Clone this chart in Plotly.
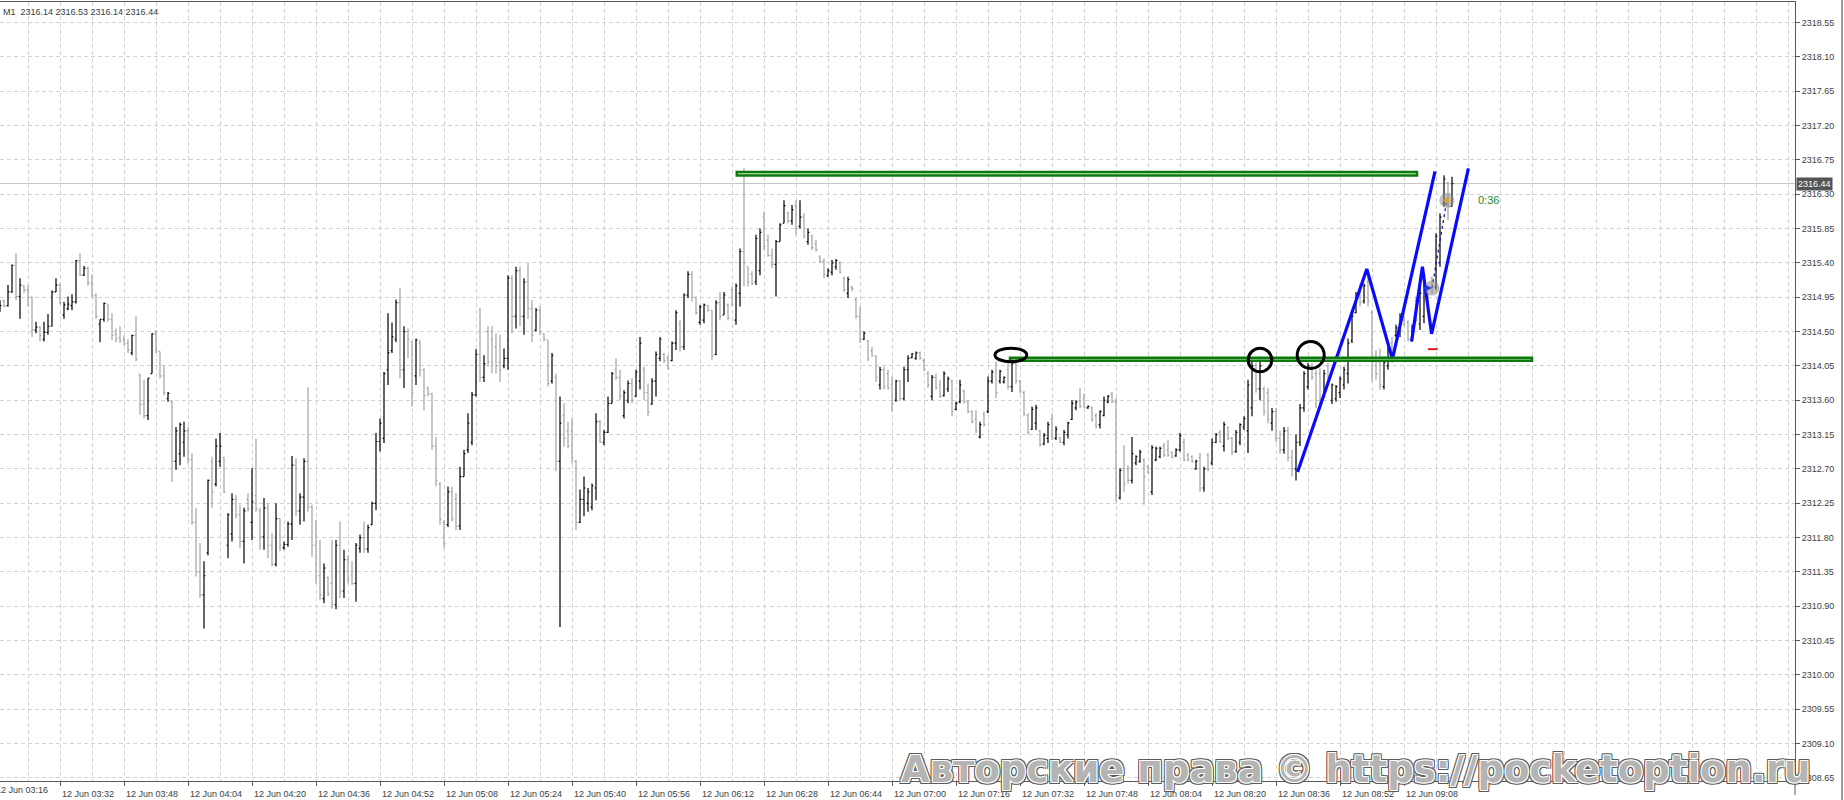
import plotly.graph_objects as go
import pandas as pd

# ---------------- data (M1 bars, 12 Jun, 03:17 .. 09:20) ----------------
OPEN = [
2314.80, 2314.90, 2314.84, 2315.02, 2315.37, 2314.96, 2315.10, 2315.05, 2314.95, 2314.52,
2314.56, 2314.40, 2314.49, 2314.57, 2315.02, 2315.11, 2314.72, 2314.80, 2314.84, 2314.89,
2315.43, 2315.24, 2315.33, 2315.14, 2314.98, 2314.60, 2314.66, 2314.86, 2314.66, 2314.47,
2314.42, 2314.40, 2314.35, 2314.22, 2314.45, 2313.93, 2313.55, 2313.40, 2313.95, 2314.47,
2314.24, 2313.92, 2313.62, 2313.58, 2312.80, 2312.90, 2313.05, 2313.20, 2312.82, 2312.00,
2311.35, 2311.05, 2311.60, 2312.80, 2312.50, 2312.80, 2312.85, 2311.70, 2311.85, 2312.30,
2312.10, 2311.75, 2312.30, 2312.00, 2312.35, 2312.15, 2311.81, 2312.19, 2311.70, 2311.45,
2312.05, 2311.67, 2311.71, 2311.98, 2312.75, 2312.15, 2312.33, 2312.80, 2312.20, 2311.70,
2311.30, 2311.00, 2311.28, 2311.20, 2310.92, 2311.70, 2311.10, 2311.51, 2311.30, 2311.20,
2311.66, 2311.80, 2311.65, 2311.97, 2312.25, 2313.06, 2313.10, 2314.00, 2314.25, 2314.40,
2314.88, 2314.00, 2314.50, 2314.37, 2313.92, 2314.35, 2314.00, 2313.76, 2313.68, 2313.00,
2312.50, 2312.00, 2311.97, 2312.40, 2312.30, 2311.95, 2312.60, 2312.95, 2313.05, 2313.67,
2314.20, 2313.90, 2314.50, 2314.40, 2314.30, 2314.10, 2314.05, 2314.15, 2315.20, 2314.70,
2315.30, 2314.70, 2315.15, 2314.80, 2314.52, 2314.78, 2314.47, 2314.39, 2313.85, 2313.90,
2312.80, 2313.40, 2313.20, 2313.20, 2312.80, 2312.00, 2312.30, 2312.25, 2312.20, 2312.45,
2313.32, 2313.05, 2313.18, 2313.56, 2314.00, 2313.90, 2313.40, 2313.60, 2313.82, 2313.65,
2313.85, 2314.00, 2313.70, 2313.55, 2313.85, 2314.15, 2314.20, 2314.15, 2314.12, 2314.35,
2314.60, 2314.30, 2314.98, 2315.25, 2314.95, 2314.62, 2314.65, 2314.84, 2314.78, 2314.20,
2314.88, 2314.72, 2314.85, 2315.05, 2314.65, 2315.00, 2315.55, 2315.35, 2315.25, 2315.15,
2315.30, 2316.00, 2315.70, 2315.50, 2315.38, 2315.68, 2315.92, 2316.05, 2315.95, 2316.15,
2315.88, 2316.00, 2315.68, 2315.75, 2315.65, 2315.48, 2315.42, 2315.23, 2315.28, 2315.35,
2315.40, 2315.20, 2315.00, 2315.08, 2314.92, 2314.70, 2314.40, 2314.38, 2314.25, 2314.18,
2313.80, 2314.00, 2313.95, 2313.80, 2313.60, 2313.85, 2313.62, 2314.00, 2314.16, 2314.15,
2314.22, 2314.12, 2313.95, 2313.65, 2313.90, 2313.80, 2313.66, 2313.75, 2313.85, 2313.48,
2313.58, 2313.72, 2313.58, 2313.45, 2313.35, 2313.12, 2313.42, 2313.45, 2313.85, 2314.00,
2313.85, 2313.84, 2314.00, 2313.78, 2314.08, 2313.85, 2313.70, 2313.40, 2313.22, 2313.30,
2313.20, 2313.03, 2313.10, 2313.35, 2313.10, 2313.11, 2313.05, 2313.15, 2313.35, 2313.50,
2313.60, 2313.62, 2313.50, 2313.50, 2313.40, 2313.28, 2313.40, 2313.58, 2313.68, 2313.58,
2312.32, 2312.70, 2312.70, 2312.55, 2312.78, 2312.80, 2312.82, 2312.73, 2312.40, 2312.82,
2312.86, 2313.00, 2312.95, 2312.92, 2312.87, 2312.95, 2313.05, 2312.88, 2312.86, 2312.70,
2312.85, 2312.45, 2312.88, 2312.78, 2313.05, 2313.18, 2313.00, 2313.24, 2313.10, 2312.93,
2313.05, 2313.25, 2313.20, 2313.50, 2314.05, 2313.75, 2313.75, 2313.70, 2313.30, 2313.45,
2313.10, 2312.95, 2313.20, 2312.85, 2312.70, 2313.05, 2313.50, 2313.78, 2314.05, 2313.95,
2313.95, 2313.65, 2314.05, 2313.60, 2313.62, 2313.70, 2313.80, 2313.95, 2314.38, 2314.75,
2315.05, 2314.90, 2315.15, 2314.75, 2314.20, 2314.10, 2313.78, 2314.05, 2314.35, 2314.45,
2314.50, 2314.70, 2314.62, 2314.40, 2314.90, 2314.60, 2314.70, 2314.98, 2315.20, 2315.08,
2315.40, 2316.18, 2316.45, 2316.14,
]
HIGH = [
2314.91, 2314.92, 2315.11, 2315.38, 2315.53, 2315.20, 2315.11, 2315.11, 2314.96, 2314.63,
2314.57, 2314.63, 2314.73, 2315.04, 2315.20, 2315.13, 2314.89, 2314.96, 2314.99, 2315.44,
2315.53, 2315.36, 2315.35, 2315.25, 2315.00, 2314.66, 2314.88, 2314.86, 2314.74, 2314.54,
2314.57, 2314.45, 2314.40, 2314.46, 2314.70, 2313.95, 2313.87, 2313.89, 2314.48, 2314.52,
2314.24, 2314.06, 2313.71, 2313.60, 2313.25, 2313.31, 2313.32, 2313.25, 2312.91, 2312.19,
2311.73, 2311.49, 2312.56, 2312.86, 2313.10, 2313.17, 2312.86, 2312.12, 2312.38, 2312.36,
2312.23, 2312.19, 2312.38, 2312.71, 2313.10, 2312.19, 2312.32, 2312.25, 2311.86, 2312.25,
2312.05, 2311.75, 2312.01, 2312.87, 2312.84, 2312.38, 2312.84, 2313.77, 2312.23, 2312.03,
2311.77, 2311.46, 2311.29, 2311.77, 2311.77, 2312.01, 2311.64, 2311.57, 2311.49, 2311.73,
2311.84, 2312.01, 2311.97, 2312.27, 2313.17, 2313.36, 2313.97, 2314.74, 2314.62, 2314.92,
2315.07, 2314.57, 2314.54, 2314.37, 2314.41, 2314.39, 2314.02, 2313.78, 2313.70, 2313.12,
2312.53, 2312.03, 2312.47, 2312.47, 2312.38, 2312.73, 2312.95, 2313.43, 2313.71, 2314.27,
2314.81, 2314.19, 2314.57, 2314.57, 2314.48, 2314.46, 2314.28, 2315.24, 2315.24, 2315.35,
2315.35, 2315.20, 2315.40, 2314.91, 2314.81, 2314.83, 2314.48, 2314.39, 2314.22, 2313.95,
2313.65, 2313.56, 2313.32, 2313.36, 2312.82, 2312.43, 2312.60, 2312.45, 2312.51, 2313.43,
2313.34, 2313.21, 2313.65, 2313.97, 2314.15, 2314.00, 2313.73, 2313.86, 2313.89, 2314.00,
2314.43, 2314.04, 2313.82, 2313.89, 2314.24, 2314.43, 2314.22, 2314.19, 2314.37, 2314.78,
2314.65, 2315.00, 2315.29, 2315.29, 2314.96, 2314.85, 2314.87, 2314.85, 2314.78, 2314.91,
2315.02, 2315.02, 2314.87, 2315.09, 2315.13, 2315.59, 2316.64, 2315.35, 2315.29, 2315.77,
2315.85, 2316.07, 2315.77, 2315.59, 2315.70, 2315.92, 2316.22, 2316.07, 2316.16, 2316.22,
2316.22, 2316.05, 2315.85, 2315.77, 2315.70, 2315.50, 2315.46, 2315.33, 2315.44, 2315.45,
2315.42, 2315.22, 2315.22, 2315.10, 2314.94, 2314.83, 2314.50, 2314.39, 2314.30, 2314.19,
2314.04, 2314.04, 2314.00, 2313.91, 2313.87, 2313.87, 2314.04, 2314.19, 2314.22, 2314.24,
2314.24, 2314.15, 2313.98, 2313.93, 2313.95, 2313.87, 2313.98, 2313.91, 2313.87, 2313.58,
2313.87, 2313.74, 2313.60, 2313.47, 2313.47, 2313.32, 2313.45, 2313.91, 2314.00, 2314.11,
2314.00, 2313.91, 2314.09, 2314.11, 2314.13, 2313.87, 2313.72, 2313.43, 2313.52, 2313.54,
2313.21, 2313.17, 2313.32, 2313.43, 2313.26, 2313.12, 2313.21, 2313.32, 2313.60, 2313.60,
2313.76, 2313.69, 2313.53, 2313.52, 2313.43, 2313.47, 2313.65, 2313.67, 2313.71, 2313.63,
2312.71, 2313.01, 2312.75, 2313.12, 2312.88, 2312.95, 2312.84, 2312.75, 2313.01, 2312.99,
2312.99, 2313.04, 2313.08, 2312.93, 2312.97, 2313.17, 2313.10, 2312.91, 2312.88, 2312.82,
2312.91, 2312.73, 2312.91, 2313.10, 2313.17, 2313.21, 2313.32, 2313.26, 2313.12, 2313.21,
2313.30, 2313.39, 2313.87, 2314.13, 2314.10, 2314.17, 2313.78, 2313.76, 2313.50, 2313.50,
2313.20, 2313.25, 2313.25, 2312.95, 2313.15, 2313.55, 2313.98, 2314.09, 2314.09, 2314.00,
2314.02, 2314.00, 2314.09, 2313.82, 2313.80, 2313.91, 2314.04, 2314.41, 2314.74, 2315.02,
2315.13, 2315.13, 2315.30, 2314.78, 2314.26, 2314.28, 2314.17, 2314.30, 2314.43, 2314.59,
2314.74, 2314.72, 2314.65, 2314.59, 2314.96, 2315.09, 2315.13, 2315.00, 2315.22, 2315.79,
2316.05, 2316.55, 2316.46, 2316.53,
]
LOW = [
2314.76, 2314.82, 2314.83, 2315.01, 2314.91, 2314.67, 2315.01, 2314.83, 2314.43, 2314.48,
2314.37, 2314.37, 2314.46, 2314.57, 2315.02, 2314.86, 2314.67, 2314.78, 2314.78, 2314.87,
2315.23, 2315.23, 2315.10, 2314.95, 2314.67, 2314.36, 2314.63, 2314.63, 2314.39, 2314.36,
2314.35, 2314.32, 2314.22, 2314.19, 2314.11, 2313.41, 2313.36, 2313.34, 2313.95, 2314.22,
2313.89, 2313.67, 2313.58, 2312.53, 2312.69, 2312.75, 2312.86, 2312.77, 2311.97, 2311.29,
2311.01, 2310.61, 2311.57, 2312.19, 2312.47, 2312.73, 2312.38, 2311.53, 2311.75, 2312.05,
2311.66, 2311.46, 2312.14, 2311.77, 2312.14, 2311.64, 2311.64, 2311.53, 2311.42, 2311.42,
2311.62, 2311.64, 2311.68, 2311.77, 2312.08, 2311.97, 2312.01, 2312.14, 2311.55, 2311.20,
2310.98, 2310.94, 2311.03, 2310.87, 2310.86, 2311.01, 2311.01, 2311.20, 2311.18, 2310.96,
2311.60, 2311.60, 2311.60, 2311.97, 2312.16, 2312.93, 2313.04, 2313.80, 2314.22, 2314.36,
2313.89, 2313.76, 2314.15, 2313.52, 2313.80, 2313.91, 2313.47, 2313.65, 2312.95, 2312.47,
2311.97, 2311.66, 2311.94, 2312.01, 2311.90, 2311.90, 2312.60, 2312.91, 2313.01, 2313.65,
2313.84, 2313.84, 2314.04, 2313.95, 2313.95, 2313.84, 2314.02, 2314.00, 2314.48, 2314.54,
2314.57, 2314.46, 2314.67, 2314.36, 2314.50, 2314.46, 2314.37, 2313.78, 2313.82, 2312.67,
2310.63, 2312.99, 2312.97, 2312.77, 2311.90, 2311.99, 2312.08, 2312.14, 2312.16, 2312.29,
2313.04, 2313.01, 2313.17, 2313.56, 2313.87, 2313.60, 2313.36, 2313.56, 2313.56, 2313.65,
2313.74, 2313.60, 2313.39, 2313.54, 2313.65, 2314.11, 2314.09, 2314.00, 2314.11, 2314.26,
2314.24, 2314.26, 2314.94, 2314.89, 2314.72, 2314.59, 2314.61, 2314.76, 2314.13, 2314.19,
2314.65, 2314.72, 2314.65, 2314.83, 2314.59, 2314.83, 2315.09, 2315.09, 2315.11, 2315.11,
2315.24, 2315.57, 2315.48, 2315.33, 2314.96, 2315.68, 2315.92, 2315.92, 2315.90, 2315.77,
2315.85, 2315.72, 2315.64, 2315.57, 2315.55, 2315.40, 2315.20, 2315.22, 2315.24, 2315.31,
2315.26, 2315.02, 2314.94, 2315.03, 2314.67, 2314.35, 2314.39, 2314.11, 2314.17, 2313.84,
2313.74, 2313.74, 2313.74, 2313.45, 2313.58, 2313.60, 2313.60, 2313.84, 2314.15, 2314.13,
2314.13, 2313.98, 2313.76, 2313.60, 2313.74, 2313.63, 2313.65, 2313.71, 2313.39, 2313.47,
2313.56, 2313.56, 2313.43, 2313.30, 2313.17, 2313.10, 2313.26, 2313.43, 2313.82, 2313.63,
2313.82, 2313.82, 2313.74, 2313.71, 2313.82, 2313.69, 2313.39, 2313.15, 2313.21, 2313.21,
2312.99, 2313.01, 2313.04, 2313.08, 2313.08, 2313.04, 2313.01, 2313.10, 2313.34, 2313.47,
2313.50, 2313.50, 2313.49, 2313.32, 2313.23, 2313.23, 2313.39, 2313.56, 2313.56, 2312.27,
2312.30, 2312.40, 2312.51, 2312.51, 2312.75, 2312.78, 2312.23, 2312.64, 2312.36, 2312.80,
2312.84, 2312.86, 2312.86, 2312.84, 2312.86, 2312.93, 2312.80, 2312.80, 2312.78, 2312.69,
2312.40, 2312.40, 2312.67, 2312.75, 2313.04, 2313.04, 2312.93, 2313.08, 2312.88, 2312.91,
2313.01, 2313.21, 2312.91, 2313.39, 2313.70, 2313.60, 2313.40, 2313.30, 2313.20, 2313.05,
2312.90, 2312.90, 2312.80, 2312.60, 2312.55, 2313.00, 2313.45, 2313.74, 2313.87, 2313.50,
2313.55, 2313.63, 2313.82, 2313.55, 2313.58, 2313.63, 2313.74, 2313.82, 2314.35, 2314.74,
2314.83, 2314.87, 2314.83, 2313.85, 2313.87, 2313.74, 2313.74, 2314.00, 2314.09, 2314.43,
2314.43, 2314.57, 2314.37, 2314.37, 2314.61, 2314.52, 2314.61, 2314.74, 2315.00, 2315.05,
2315.35, 2316.14, 2315.96, 2316.14,
]
CLOSE = [
2314.84, 2314.83, 2315.02, 2315.37, 2314.96, 2315.11, 2315.04, 2314.95, 2314.52, 2314.56,
2314.45, 2314.49, 2314.57, 2315.02, 2315.11, 2314.88, 2314.85, 2314.86, 2314.89, 2315.43,
2315.24, 2315.33, 2315.14, 2314.98, 2314.70, 2314.66, 2314.87, 2314.66, 2314.45, 2314.40,
2314.38, 2314.34, 2314.26, 2314.45, 2314.14, 2313.55, 2313.40, 2313.89, 2314.47, 2314.25,
2313.92, 2313.70, 2313.69, 2312.80, 2313.20, 2313.28, 2313.20, 2312.82, 2312.00, 2311.35,
2311.05, 2311.30, 2312.55, 2312.40, 2313.00, 2313.00, 2312.40, 2312.10, 2312.30, 2312.10,
2311.75, 2312.15, 2312.18, 2312.27, 2312.18, 2311.81, 2312.19, 2311.70, 2311.45, 2312.05,
2311.70, 2311.71, 2311.98, 2312.75, 2312.15, 2312.33, 2312.80, 2312.20, 2311.70, 2311.30,
2311.05, 2311.40, 2311.06, 2310.92, 2311.70, 2311.10, 2311.51, 2311.25, 2311.20, 2311.70,
2311.80, 2311.65, 2311.93, 2312.25, 2313.06, 2313.30, 2313.95, 2314.22, 2314.43, 2314.88,
2314.00, 2314.50, 2314.40, 2313.70, 2314.39, 2314.00, 2313.66, 2313.68, 2313.00, 2312.55,
2312.05, 2311.72, 2312.40, 2312.05, 2311.95, 2312.60, 2312.90, 2313.30, 2313.67, 2314.20,
2313.90, 2314.08, 2314.10, 2314.10, 2314.05, 2314.00, 2314.15, 2315.20, 2314.70, 2315.30,
2314.70, 2315.15, 2314.80, 2314.45, 2314.78, 2314.50, 2314.40, 2313.82, 2314.19, 2312.80,
2313.30, 2313.10, 2313.00, 2312.85, 2312.00, 2312.30, 2312.45, 2312.40, 2312.48, 2313.32,
2313.05, 2313.18, 2313.56, 2313.95, 2313.90, 2313.65, 2313.70, 2313.82, 2313.60, 2313.97,
2314.35, 2313.70, 2313.45, 2313.85, 2314.20, 2314.40, 2314.12, 2314.02, 2314.35, 2314.75,
2314.30, 2314.98, 2315.25, 2314.95, 2314.75, 2314.82, 2314.85, 2314.78, 2314.18, 2314.88,
2314.70, 2314.98, 2314.68, 2314.86, 2315.10, 2315.55, 2315.40, 2315.15, 2315.13, 2315.72,
2315.80, 2315.62, 2315.50, 2315.38, 2315.68, 2315.90, 2316.15, 2315.95, 2316.10, 2315.85,
2316.00, 2315.75, 2315.80, 2315.60, 2315.57, 2315.42, 2315.25, 2315.30, 2315.40, 2315.43,
2315.28, 2315.05, 2315.18, 2315.06, 2314.70, 2314.40, 2314.48, 2314.15, 2314.19, 2313.90,
2314.00, 2313.78, 2313.76, 2313.55, 2313.85, 2313.62, 2314.00, 2314.15, 2314.21, 2314.22,
2314.15, 2314.00, 2313.80, 2313.90, 2313.76, 2313.65, 2313.95, 2313.88, 2313.45, 2313.56,
2313.80, 2313.58, 2313.45, 2313.32, 2313.20, 2313.28, 2313.28, 2313.85, 2313.97, 2313.70,
2313.98, 2313.90, 2313.78, 2314.08, 2313.85, 2313.72, 2313.42, 2313.18, 2313.48, 2313.50,
2313.02, 2313.14, 2313.28, 2313.12, 2313.22, 2313.05, 2313.18, 2313.30, 2313.56, 2313.58,
2313.52, 2313.51, 2313.52, 2313.35, 2313.26, 2313.45, 2313.60, 2313.65, 2313.58, 2312.35,
2312.68, 2312.50, 2312.55, 2312.90, 2312.86, 2312.92, 2312.60, 2312.66, 2312.98, 2312.97,
2312.97, 2312.88, 2312.88, 2312.85, 2312.95, 2313.14, 2312.82, 2312.82, 2312.80, 2312.80,
2312.45, 2312.70, 2312.70, 2313.05, 2313.15, 2313.06, 2313.28, 2313.10, 2312.92, 2313.18,
2313.28, 2313.36, 2313.80, 2314.05, 2313.75, 2314.05, 2313.45, 2313.35, 2313.45, 2313.10,
2312.95, 2313.20, 2312.85, 2312.70, 2313.05, 2313.50, 2313.95, 2314.05, 2313.90, 2313.60,
2313.62, 2313.95, 2313.85, 2313.80, 2313.78, 2313.88, 2314.00, 2314.35, 2314.70, 2314.98,
2314.88, 2315.10, 2314.90, 2314.10, 2313.95, 2313.80, 2314.10, 2314.25, 2314.15, 2314.55,
2314.70, 2314.60, 2314.40, 2314.55, 2314.65, 2315.00, 2315.05, 2314.78, 2315.02, 2315.75,
2316.00, 2316.50, 2316.14, 2316.44,
]
FIRST_BAR = "2024-06-12 03:17"
TIMEFRAME = "M1"

# time-axis labels (every 16 minutes, only where bars exist)
LABEL_FIRST = "2024-06-12 03:16"
LABEL_LAST = "2024-06-12 09:08"

# horizontal levels drawn on the chart (rectangles)
LEVEL_X0 = ["2024-06-12 06:21:12", "2024-06-12 07:29:30"]
LEVEL_X1 = ["2024-06-12 09:11:15", "2024-06-12 09:40:00"]
LEVEL_HI = [2316.593, 2314.156]
LEVEL_LO = [2316.546, 2314.118]

# ellipses marking touches of the level
ELL_X0 = ["2024-06-12 07:25:45", "2024-06-12 08:29:03", "2024-06-12 08:41:18"]
ELL_X1 = ["2024-06-12 07:33:42", "2024-06-12 08:34:57", "2024-06-12 08:48:03"]
ELL_HI = [2314.283, 2314.283, 2314.370]
ELL_LO = [2314.105, 2313.974, 2314.017]

# blue zig-zag drawings
ZIG1_T = ["2024-06-12 08:41:24", "2024-06-12 08:58:42", "2024-06-12 09:05:06", "2024-06-12 09:15:45"]
ZIG1_P = [2312.66, 2315.32, 2314.14, 2316.60]
ZIG2_T = ["2024-06-12 09:09:54", "2024-06-12 09:12:36", "2024-06-12 09:14:54", "2024-06-12 09:24:06"]
ZIG2_P = [2314.37, 2315.35, 2314.47, 2316.64]

# trade markers
TRADE_T = ["2024-06-12 09:15:00", "2024-06-12 09:18:42"]
TRADE_P = [2315.07, 2316.22]
STOP_T = ["2024-06-12 09:15:12"]
STOP_P = [2314.27]
TIMER_T = "2024-06-12 09:26:00"
TIMER_P = 2316.22
TIMER_TEXT = "0:36"

WATERMARK = "Авторские права © https://pocketoption.ru"

TIMES = pd.date_range(FIRST_BAR, periods=len(CLOSE), freq="min")
LABEL_TIMES = pd.date_range(LABEL_FIRST, LABEL_LAST, freq="16min")

GRID = "#d2d2d2"
AXIS = "#5a5a5a"
FONT = "Liberation Sans"

fig = go.Figure()
fig.add_trace(go.Ohlc(
    x=TIMES, open=OPEN, high=HIGH, low=LOW, close=CLOSE,
    increasing=dict(line=dict(color="#000000", width=1.2)),
    decreasing=dict(line=dict(color="#a3a3a3", width=1.2)),
    tickwidth=0.35, hoverinfo="skip", showlegend=False,
))

# level rectangles
for x0, x1, hi, lo in zip(LEVEL_X0, LEVEL_X1, LEVEL_HI, LEVEL_LO):
    fig.add_shape(type="rect", xref="x", yref="y", x0=x0, x1=x1, y0=lo, y1=hi,
                  line=dict(color="#0d7a0d", width=2.5), fillcolor="#cdf2c8", layer="above")

# ellipses
for x0, x1, hi, lo in zip(ELL_X0, ELL_X1, ELL_HI, ELL_LO):
    fig.add_shape(type="circle", xref="x", yref="y", x0=x0, x1=x1, y0=lo, y1=hi,
                  line=dict(color="#000000", width=3), layer="above")

for t, p in ((ZIG1_T, ZIG1_P), (ZIG2_T, ZIG2_P)):
    fig.add_trace(go.Scatter(x=t, y=p, mode="lines", line=dict(color="#0a0aff", width=3.2),
                             hoverinfo="skip", showlegend=False))

# dotted link between trades
fig.add_trace(go.Scatter(x=TRADE_T, y=TRADE_P, mode="lines",
                         line=dict(color="#1a1a9a", width=1.3, dash="dot"),
                         hoverinfo="skip", showlegend=False))
fig.add_trace(go.Scatter(x=TRADE_T, y=TRADE_P, mode="markers",
                         marker=dict(size=15, color="rgba(140,140,140,0.55)", line=dict(width=0)),
                         hoverinfo="skip", showlegend=False))
fig.add_trace(go.Scatter(x=TRADE_T[:1], y=TRADE_P[:1], mode="markers",
                         marker=dict(size=7, color="#2040d0", symbol="arrow-right"),
                         hoverinfo="skip", showlegend=False))
fig.add_trace(go.Scatter(x=TRADE_T[1:], y=TRADE_P[1:], mode="markers",
                         marker=dict(size=7, color="#e0a020", symbol="triangle-left"),
                         hoverinfo="skip", showlegend=False))
fig.add_trace(go.Scatter(x=STOP_T, y=STOP_P, mode="markers",
                         marker=dict(size=7, symbol="line-ew", line=dict(color="#e02020", width=2)),
                         hoverinfo="skip", showlegend=False))

# bid line
fig.add_shape(type="line", xref="paper", yref="y", x0=0, x1=1, y0=CLOSE[-1], y1=CLOSE[-1],
              line=dict(color="#c4c4c4", width=1), layer="below")

# window frame lines
fig.add_shape(type="line", xref="paper", yref="paper", x0=1, x1=1, y0=-0.018, y1=0,
              line=dict(color=AXIS, width=1))
fig.add_shape(type="line", xref="paper", yref="paper", x0=1.0262, x1=1.0262, y0=-0.03, y1=1.01,
              line=dict(color="#3a3a3a", width=1))

annotations = [
    dict(xref="paper", yref="paper", x=0, y=1, xanchor="left", yanchor="top", xshift=1, yshift=-3,
         text=f"{TIMEFRAME}  {OPEN[-1]:.2f} {HIGH[-1]:.2f} {LOW[-1]:.2f} {CLOSE[-1]:.2f}",
         showarrow=False, font=dict(family=FONT, size=9, color="#3c3c3c")),
    # first time label, whose tick lies just left of the visible area (partly cut, as in the terminal)
    dict(xref="paper", yref="paper", x=0, y=0, xanchor="left", yanchor="top", xshift=-6, yshift=-2,
         text=LABEL_TIMES[0].strftime("%d %b %H:%M"), showarrow=False,
         font=dict(family=FONT, size=9, color="#404040")),
    dict(xref="paper", yref="y", x=1, y=CLOSE[-1], xanchor="left", yanchor="middle", xshift=1,
         text=f"{CLOSE[-1]:.2f}", showarrow=False, bgcolor="#545454", borderpad=1,
         font=dict(family=FONT, size=9, color="#ffffff")),
    dict(xref="x", yref="y", x=TIMER_T, y=TIMER_P, xanchor="left", yanchor="middle",
         text=TIMER_TEXT, showarrow=False, font=dict(family=FONT, size=11, color="#1e8c1e")),
    dict(xref="paper", yref="paper", x=899 / 1795, y=(781 - 769) / 779, xanchor="left", yanchor="middle",
         text=WATERMARK, showarrow=False,
         font=dict(family="DejaVu Sans", size=37, color="#b4b4b4", weight="bold",
                   shadow="1px 1px 0 #fff, -1px -1px 0 #fff, 1px -1px 0 #fff, -1px 1px 0 #fff, "
                          "2px 2px 0 #5a5a5a, -2px -2px 0 #5a5a5a, 2px -2px 0 #5a5a5a, -2px 2px 0 #5a5a5a, "
                          "2px 0 0 #5a5a5a, -2px 0 0 #5a5a5a, 0 2px 0 #5a5a5a, 0 -2px 0 #5a5a5a")),
]

fig.update_layout(
    width=1844, height=800,
    margin=dict(l=0, r=49, t=2, b=19),
    paper_bgcolor="white", plot_bgcolor="white",
    showlegend=False, annotations=annotations,
    font=dict(family=FONT, size=9, color="#404040"),
    xaxis=dict(
        type="date", range=["2024-06-12 03:17:00", "2024-06-12 10:45:45"],
        rangeslider=dict(visible=False),
        tickmode="array", tickvals=list(LABEL_TIMES), tickformat="%d %b %H:%M",
        ticks="outside", ticklen=4, tickcolor=AXIS, ticklabelshift=28,
        tickfont=dict(family=FONT, size=9, color="#404040"),
        showgrid=False,
        minor=dict(tick0=LABEL_FIRST, dtick=8 * 60 * 1000, showgrid=True,
                   gridcolor=GRID, griddash="4px,3px", gridwidth=1, ticks=""),
        showline=True, linecolor=AXIS, linewidth=1, mirror=True, zeroline=False,
    ),
    yaxis=dict(
        side="right", range=[2308.61, 2318.82], tick0=2308.65, dtick=0.45, tickformat=".2f",
        ticks="outside", ticklen=4, tickcolor=AXIS,
        tickfont=dict(family=FONT, size=9, color="#404040"),
        showgrid=True, gridcolor=GRID, griddash="4px,3px", gridwidth=1,
        showline=True, linecolor=AXIS, linewidth=1, zeroline=False,
    ),
)

fig.write_html("out.html", config=dict(displayModeBar=False),
               post_script="document.body.style.margin='0';document.body.style.overflow='hidden';")
